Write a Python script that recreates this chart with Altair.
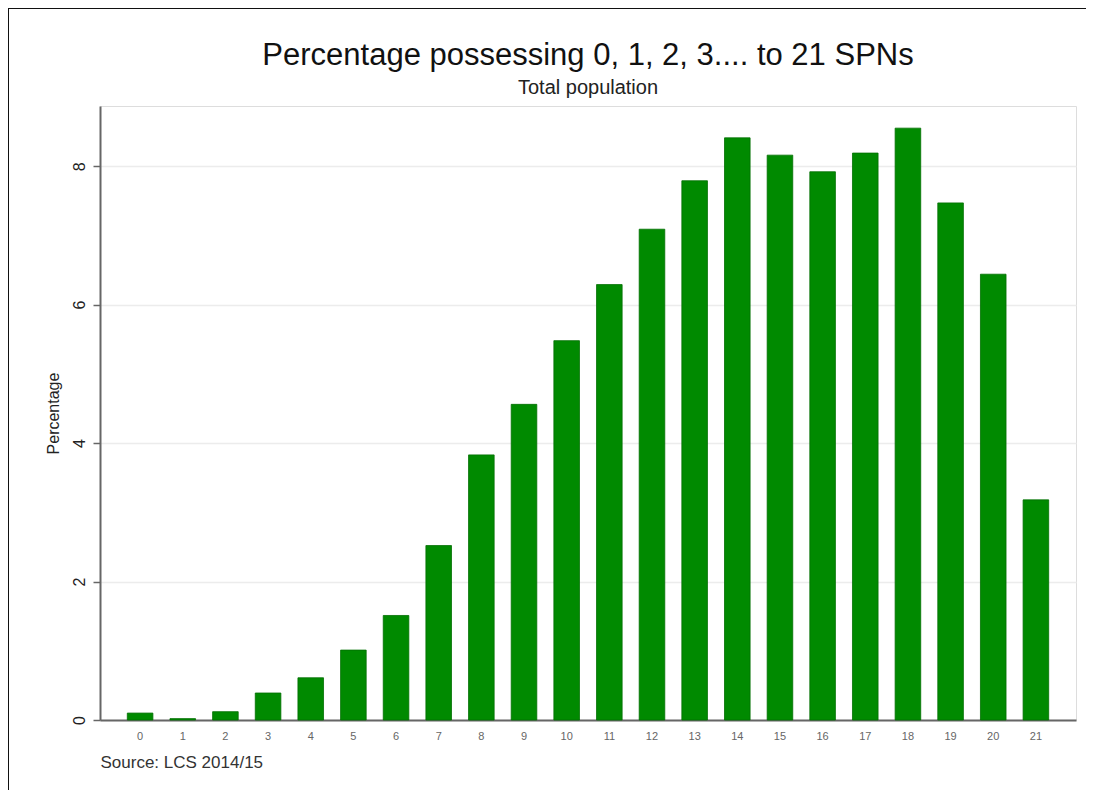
import altair as alt
import pandas as pd

spns = [str(i) for i in range(22)]
percentages = [0.10, 0.02, 0.12, 0.39, 0.61, 1.01, 1.51, 2.52, 3.83, 4.56, 5.48,
               6.29, 7.09, 7.79, 8.41, 8.16, 7.92, 8.19, 8.55, 7.47, 6.44, 3.18]
y_ticks = [0, 2, 4, 6, 8]

df = pd.DataFrame({"spn": spns, "pct": percentages})

FONT = "Liberation Sans"

bars = alt.Chart(df).mark_bar(color="#008a00", stroke="#006f00", strokeWidth=0.8).encode(
    x=alt.X("spn:O", sort=spns,
            scale=alt.Scale(paddingInner=0.4, paddingOuter=0.64),
            axis=alt.Axis(title="Source: LCS 2014/15", titleAnchor="start",
                          titleFontSize=17, titleFontWeight="normal", titleColor="#333",
                          titleFont=FONT, titlePadding=13, titleAlign="left",
                          labelAngle=0, labelFontSize=11, labelColor="#666", labelFont=FONT,
                          labelPadding=10, ticks=False, domainColor="#666", domainWidth=2)),
    y=alt.Y("pct:Q", scale=alt.Scale(domain=[0, 8.87], nice=False, zero=True),
            axis=alt.Axis(title="Percentage", values=y_ticks, titleFont=FONT,
                          titleFontSize=16, titleFontWeight="normal", titleColor="#222",
                          titlePadding=10, labelAngle=270, labelFontSize=16,
                          labelColor="#222", labelFont=FONT, labelPadding=6,
                          tickSize=7, tickColor="#666", tickWidth=1.5,
                          domainColor="#666", domainWidth=2,
                          grid=True, gridColor="#ececec", gridWidth=1.5)),
)

frame_data = alt.Data(values=[{"k": 1}])
frame_left = alt.Chart(frame_data).mark_rule(color="#111", strokeWidth=2).encode(
    x=alt.value(-92), y=alt.value(-98), y2=alt.value(720))
frame_top = alt.Chart(frame_data).mark_rule(color="#111", strokeWidth=2).encode(
    x=alt.value(-92), x2=alt.value(1000), y=alt.value(-98))

chart = alt.layer(bars, frame_left, frame_top).properties(
    width=976,
    height=614,
    padding={"left": 92, "top": 98, "right": 10, "bottom": 70},
    autosize=alt.AutoSizeParams(type="none"),
    title=alt.TitleParams(
        text="Percentage possessing 0, 1, 2, 3.... to 21 SPNs",
        subtitle="Total population",
        font=FONT, fontSize=31, fontWeight="normal", color="#111",
        subtitleFont=FONT, subtitleFontSize=20, subtitleColor="#222",
        subtitlePadding=6, anchor="middle", frame="group", offset=-92),
).configure_view(stroke="#888", strokeWidth=2).configure(background="white")

chart.save("out.html", embed_options={"renderer": "svg", "actions": False})
